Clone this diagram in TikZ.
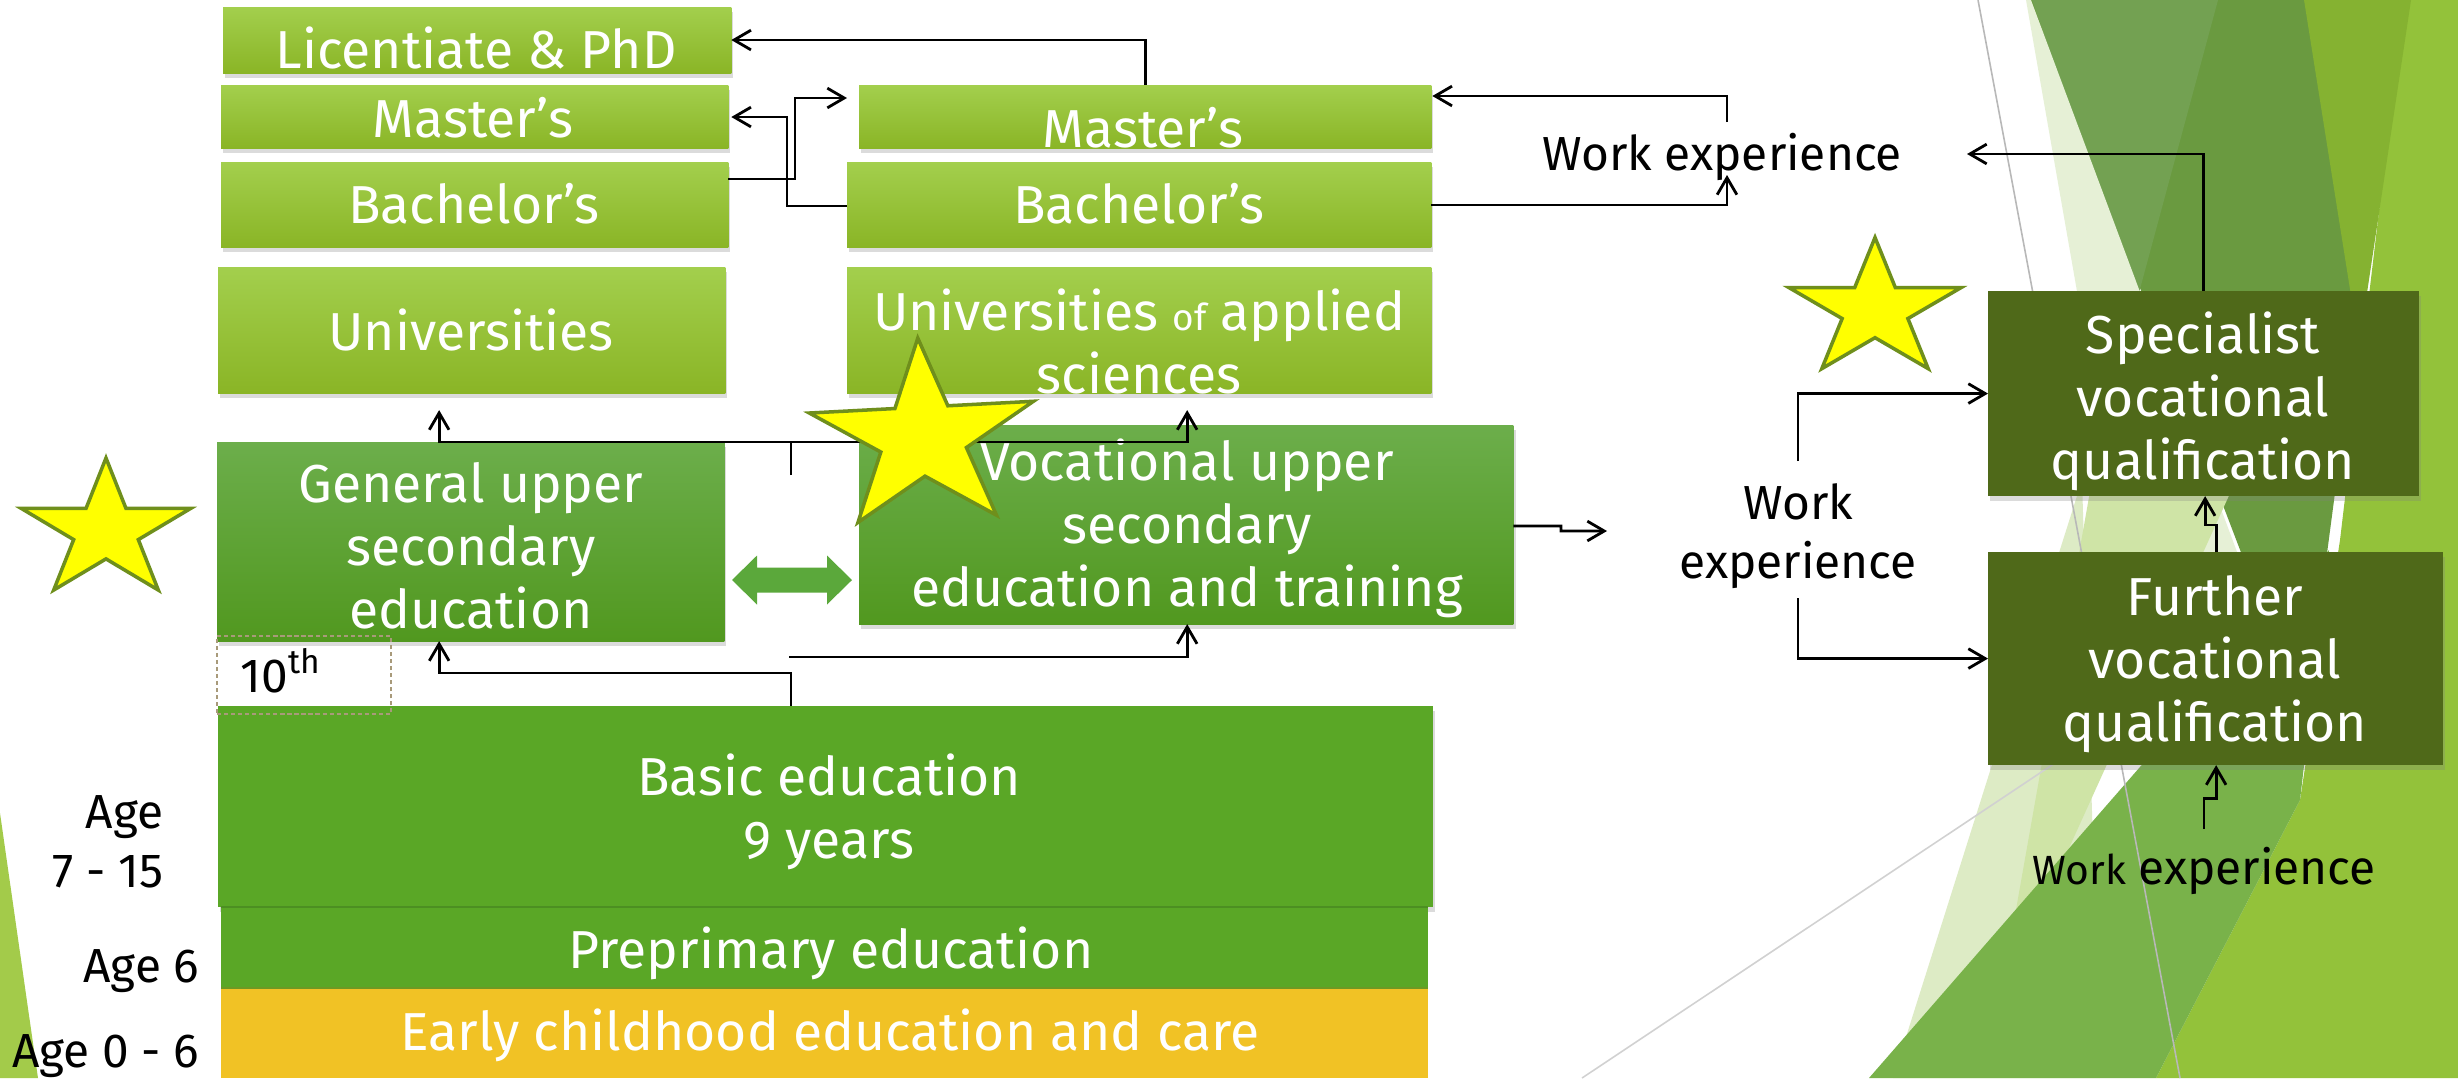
\documentclass[tikz,border=0pt]{standalone}
\usepackage{fontspec}
\setmainfont{Fira Sans}
\usetikzlibrary{shadows,arrows.meta,calc}

% box colours
\definecolor{hiTop}{HTML}{A3CF4D}
\definecolor{hiBot}{HTML}{8AB526}
\definecolor{upTop}{HTML}{6CAE4B}
\definecolor{upBot}{HTML}{51981F}
\definecolor{basicGreen}{HTML}{5AA726}
\definecolor{basicEdge}{HTML}{4C8F22}
\definecolor{earlyYellow}{HTML}{F1C225}
\definecolor{qualGreen}{HTML}{4F6919}
\definecolor{swapGreen}{HTML}{5BA83B}
\definecolor{tenLine}{HTML}{A89A7A}
\definecolor{starFill}{HTML}{FFFF00}
\definecolor{starLine}{HTML}{6F8F1C}
% background facets
\definecolor{bgLight}{HTML}{93C23A}
\definecolor{bgOlive}{HTML}{85B231}
\definecolor{bgDark}{HTML}{6A9A40}
\definecolor{bgMed}{HTML}{73A152}
\definecolor{bgPale}{HTML}{E6F0D6}
\definecolor{bPale}{HTML}{DDEBC5}
\definecolor{bLight}{HTML}{CFE4A6}
\definecolor{bGreen}{HTML}{79B24A}
\definecolor{sliver}{HTML}{A3CB4A}

\newcommand\boxfont{\fontsize{15.2}{18}\selectfont}
\newcommand\lblfont{\fontsize{13.6}{16.8}\selectfont}
\newcommand\stacklines[1]{\begin{tabular}[t]{@{}c@{}}#1\end{tabular}}
\newcommand\rstacklines[1]{\begin{tabular}[t]{@{}r@{}}#1\end{tabular}}

% five-pointed star: centre x, centre y, x radius, y radius, rotation
\newcommand\drawstar[5]{%
  \begin{scope}[shift={(#1,#2)}, rotate=#5, xscale=#3, yscale=-#4]
    \filldraw[starshape] (90:1) -- (126:0.382) -- (162:1) -- (198:0.382)
      -- (234:1) -- (270:0.382) -- (306:1) -- (342:0.382) -- (18:1)
      -- (54:0.382) -- cycle;
  \end{scope}}

\tikzset{
  box/.style={anchor=north west, inner sep=0pt, outer sep=0pt,
    drop shadow={shadow xshift=0.6pt, shadow yshift=-1.4pt, opacity=0.28}},
  hibox/.style={box, top color=hiTop, bottom color=hiBot},
  upbox/.style={box, top color=upTop, bottom color=upBot},
  flatbox/.style={anchor=north west, inner sep=0pt, outer sep=0pt},
  qualbox/.style={box, fill=qualGreen},
  boxtext/.style={anchor=base, inner sep=0pt, text=white, font=\boxfont},
  lbl/.style={anchor=base, inner sep=0pt, text=black, font=\lblfont},
  conn/.style={draw=black, line width=0.8pt},
  arr/.style={conn, -{Straight Barb[length=4.8pt,width=5.6pt,line width=0.8pt]}},
  starshape/.style={fill=starFill, draw=starLine, line width=1pt, line join=miter},
  facetline/.style={line width=0.45pt},
}

\begin{document}
\begin{tikzpicture}[x=0.01cm, y=-0.01cm]
\useasboundingbox (0,0) rectangle (2458,1078);
\fill[white] (0,0) rectangle (2458,1078);

% ---- background facets ----
\fill[sliver] (0,813) -- (38,1078) -- (0,1078) -- cycle;
\fill[bgLight] (2404,0) -- (2458,0) -- (2458,1078) -- (2156,1078) -- (2300,800) -- (2340,540) -- cycle;
\fill[bgDark] (2030,0) -- (2400,0) -- (2305,720) -- cycle;
\fill[bgOlive] (2304,0) -- (2411,0) -- (2359,346) -- cycle;
\fill[bgMed] (2032,0) -- (2218,0) -- (2137,300) -- cycle;
\fill[bgPale] (2026,0) -- (2031,0) -- (2240,560) -- (2124,560) -- cycle;
\fill[bPale] (2082,480) -- (1893,1078) -- (2100,1078) -- cycle;
\fill[bLight] (2092,480) -- (2236,480) -- (2000,1000) -- cycle;
\fill[bGreen] (1869,1078) -- (2329,550) -- (2300,800) -- (2156,1078) -- cycle;
\draw[facetline, draw=black!28] (1978,0) -- (2180,1078);
\draw[facetline, draw=black!18] (1582,1078) -- (2055,763);

% ---- boxes ----
\node[hibox, minimum width=5.08cm, minimum height=0.66cm] (lic) at (223,7) {};
\node[hibox, minimum width=5.07cm, minimum height=0.63cm] (mL) at (221,85) {};
\node[hibox, minimum width=5.07cm, minimum height=0.85cm] (bL) at (221,162) {};
\node[hibox, minimum width=5.07cm, minimum height=1.26cm] (uni) at (218,267) {};
\node[hibox, minimum width=5.72cm, minimum height=0.63cm] (mR) at (859,85) {};
\node[hibox, minimum width=5.84cm, minimum height=0.85cm] (bR) at (847,162) {};
\node[hibox, minimum width=5.84cm, minimum height=1.26cm] (uas) at (847,267) {};
\node[upbox, minimum width=5.07cm, minimum height=1.99cm] (gen) at (217,442) {};
\node[upbox, minimum width=6.54cm, minimum height=1.99cm] (voc) at (859,425) {};
\node[box, fill=basicGreen, minimum width=12.14cm, minimum height=2.01cm] (basic) at (218,706) {};
\node[flatbox, fill=basicGreen, minimum width=12.06cm, minimum height=0.81cm] (prep) at (221,907) {};
\node[flatbox, fill=earlyYellow, minimum width=12.06cm, minimum height=0.90cm] (early) at (221,988) {};
\draw[basicEdge, line width=0.6pt] (prep.north west) -- (prep.north east);
\draw[basicEdge!80!earlyYellow, line width=0.5pt] (early.north west) -- (early.north east);
\node[qualbox, minimum width=4.31cm, minimum height=2.05cm] (spec) at (1988,291) {};
\node[qualbox, minimum width=4.55cm, minimum height=2.13cm] (further) at (1988,552) {};
\node[flatbox, draw=tenLine, line width=0.5pt, dash pattern=on 1.2pt off 0.8pt,
      minimum width=1.74cm, minimum height=0.78cm] (tenth) at (217,636) {};

% block arrow between the two upper secondary routes
\fill[swapGreen] (732,580) -- (757,555.5) -- (757,567.5) -- (827,567.5) -- (827,555.5)
  -- (852,580) -- (827,604.5) -- (827,592.5) -- (757,592.5) -- (757,604.5) -- cycle;

% ---- box texts ----
\node[boxtext] (licT) at (476,68) {Licentiate \& PhD};
\node[boxtext] (mLT) at (473,137) {Master’s};
\node[boxtext] (bLT) at (474,223) {Bachelor’s};
\node[boxtext] (uniT) at (471,350) {Universities};
\node[boxtext] (mRT) at (1143,147) {Master’s};
\node[boxtext] (bRT) at (1139,223) {Bachelor’s};
\node[boxtext] (uasT) at (1139,330) {\stacklines{Universities {\fontsize{10.5}{12}\selectfont of} applied\\sciences}};
\node[boxtext] (genT) at (471,502) {\stacklines{General upper\\secondary\\education}};
\node[boxtext] (vocT) at (1187,480) {\stacklines{Vocational upper\\secondary\\education and training}};
\node[boxtext] (basicT) at (829,795) {\stacklines{Basic education\\9 years}};
\node[boxtext] (prepT) at (831,968) {Preprimary education};
\node[boxtext] (earlyT) at (830,1050) {Early childhood education and care};
\node[boxtext] (specT) at (2203,353) {\stacklines{Specialist\\vocational\\qualification}};
\node[boxtext] (furtherT) at (2215,615) {\stacklines{Further\\vocational\\qualification}};

% ---- plain labels ----
\node[lbl] (weTop) at (1722,170) {Work experience};
\node[lbl] (weMid) at (1798,519) {\stacklines{Work\\experience}};
\node[lbl] (weBot) at (2204,884) {{\fontsize{11.6}{14}\selectfont Work} experience};
\node[lbl, anchor=base east] (ageA) at (164,828) {\rstacklines{Age\\7 - 15}};
\node[lbl, anchor=base east] (ageB) at (200,982) {Age 6};
\node[lbl, anchor=base east] (ageC) at (200,1067) {Age 0 - 6};
\node[lbl, anchor=base west] (tenT) at (240,692) {10\textsuperscript{th}};

% ---- connectors ----
\draw[arr] (mR.north) |- (lic.east);
\draw[arr] ($(bL.north east)+(0,17)$) -- (795,179) |- ($(mR.north west)+(-12,13)$);
\draw[arr] ($(bR.north west)+(0,44)$) -- (787,206) |- ($(mL.north east)+(3,32)$);
\draw[arr] (1727,122) |- ($(mR.north east)+(1,11)$);
\draw[arr] ($(bR.north east)+(0,43)$) -| (1727,175);
\draw[arr] (spec.north) |- (1967,154);
\draw[arr] (791,475) -- (791,442) -| ($(uni.south)+(-32.5,17)$);
\draw[arr] (791,442) -| ($(uas.south)+(48,17)$);
\draw[arr] ($(basic.north west)+(573,0)$) -- (791,673) -| ($(gen.south)+(-31.5,0)$);
\draw[arr] (789,657) -| ($(voc.south)+(1,0)$);
\draw[arr] ($(voc.east)+(0,1.5)$) -- (1561,526) -- (1561,531) -- (1607,531);
\draw[arr] (1798,461) |- (spec.west);
\draw[arr] (1798,598) |- (further.west);
\draw[arr] ($(further.north)+(0.5,0)$) -- ++(0,-27) -| ($(spec.south)+(1.5,0)$);
\draw[arr] (2204,829) |- ($(further.south)+(0.5,33)$) -- ($(further.south)+(0.5,0)$);

% ---- stars ----
\drawstar{106}{531}{89}{73}{0}
\drawstar{923}{438}{118}{100}{3}
\drawstar{1875}{310}{90.5}{72.5}{0}
\end{tikzpicture}
\end{document}
